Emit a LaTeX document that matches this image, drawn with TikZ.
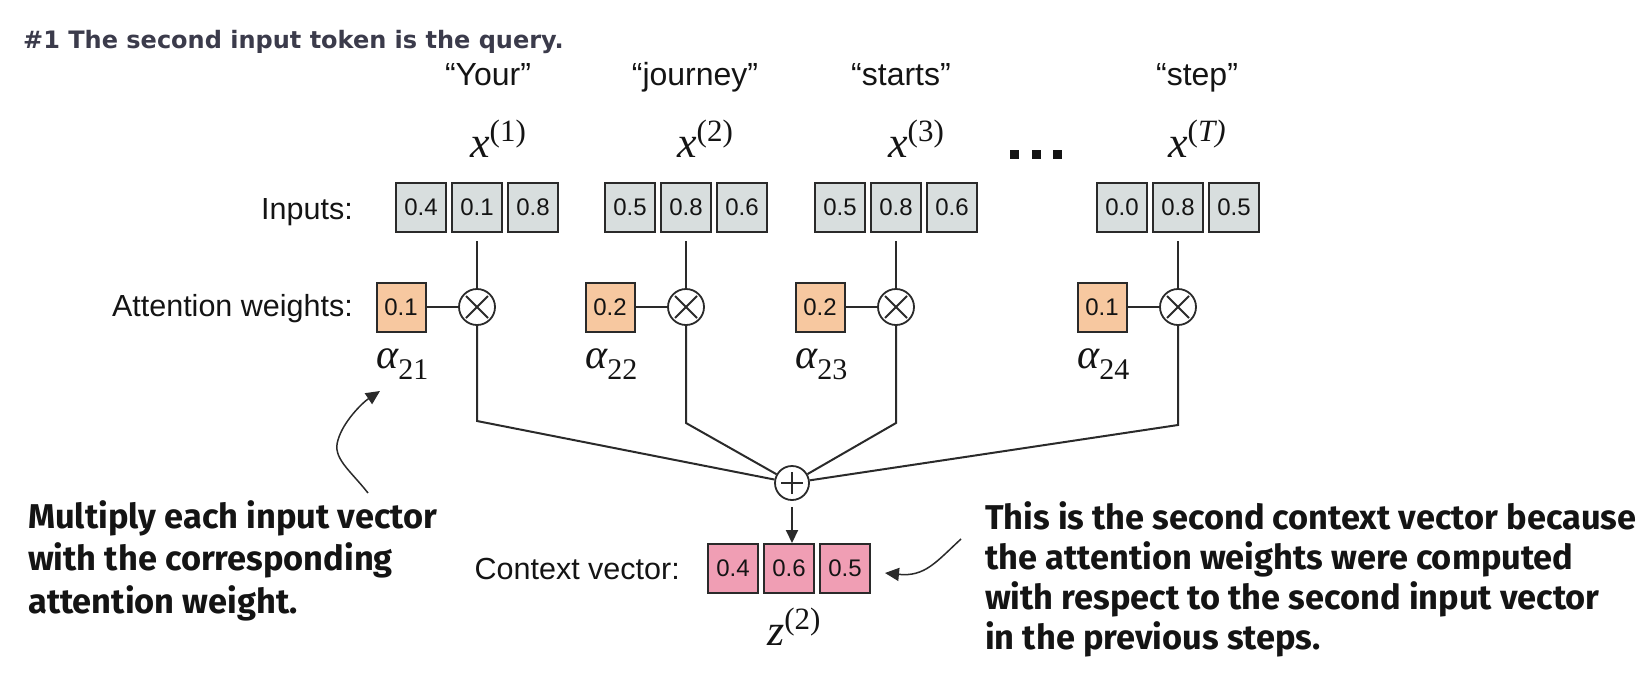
\documentclass[tikz,border=0pt]{standalone}
\usepackage{fontspec}
\setmainfont{Liberation Sans}
\newfontfamily\tms{Liberation Serif}
\newfontfamily\callfont{Fira Sans}
\newfontfamily\titlefont{DejaVu Sans}
\usetikzlibrary{arrows.meta,calc}
\definecolor{cIn}{HTML}{D8DEDE}
\definecolor{cW}{HTML}{F7C8A0}
\definecolor{cCtx}{HTML}{F09EB4}
\definecolor{cEdge}{HTML}{2A2A2A}
\definecolor{cTitle}{HTML}{3B3B4B}
\definecolor{cText}{HTML}{141414}
\newcommand{\vecsym}[2]{{\fontsize{44}{44}\selectfont\tms\itshape #1}\raisebox{16pt}{\fontsize{31}{31}\selectfont\tms(#2)}}
\newcommand{\alsym}[1]{{\fontsize{42}{42}\selectfont\tms\itshape α}\raisebox{-11pt}{\fontsize{30}{30}\selectfont\tms #1}}
\begin{document}
\begin{tikzpicture}[x=1pt,y=-1pt,
  numbox/.style={draw=cEdge, line width=2pt, minimum width=50pt, minimum height=49pt, inner sep=0pt, text=cText, font=\fontsize{24}{24}\selectfont},
  inb/.style={numbox, fill=cIn},
  wb/.style={numbox, fill=cW},
  cb/.style={numbox, fill=cCtx},
  mult/.style={circle, draw=cEdge, line width=1.8pt, minimum size=36pt, inner sep=0pt, fill=white,
    path picture={\draw[line width=1.8pt] ([shift={(-11pt,-11pt)}]path picture bounding box.center) -- ([shift={(11pt,11pt)}]path picture bounding box.center);
                  \draw[line width=1.8pt] ([shift={(-11pt,11pt)}]path picture bounding box.center) -- ([shift={(11pt,-11pt)}]path picture bounding box.center);}},
  plusc/.style={circle, draw=cEdge, line width=1.8pt, minimum size=34pt, inner sep=0pt, fill=white,
    path picture={\draw[line width=1.8pt] ([xshift=-11pt]path picture bounding box.center) -- ([xshift=11pt]path picture bounding box.center);
                  \draw[line width=1.8pt] ([yshift=-11pt]path picture bounding box.center) -- ([yshift=11pt]path picture bounding box.center);}},
  conn/.style={draw=cEdge, line width=2pt},
  lbl/.style={inner sep=0pt, text=cText, font=\fontsize{30.5}{30.5}\selectfont},
  word/.style={inner sep=0pt, text=cText, font=\fontsize{32}{32}\selectfont},
  sym/.style={inner sep=0pt, text=cText},
  note/.style={inner sep=0pt, align=left, text=cText},
  callarrow/.style={draw=cEdge, line width=1.5pt, -{Triangle[length=14pt,width=13pt]}}
]
\useasboundingbox (0,0) rectangle (1652,678);

% title
\node[anchor=base west, inner sep=0pt, text=cTitle, font=\titlefont\bfseries\fontsize{24}{24}\selectfont] (title) at (23,48) {\#1 The second input token is the query.};

% words
\node[word, anchor=base] (w1t) at (488,85) {“Your”};
\node[word, anchor=base] (w2t) at (695,85) {“journey”};
\node[word, anchor=base] (w3t) at (901,85) {“starts”};
\node[word, anchor=base] (w4t) at (1197,85) {“step”};

% vector symbols
\node[sym, anchor=base west] (x1) at (470,157) {\vecsym{x}{1}};
\node[sym, anchor=base west] (x2) at (677,157) {\vecsym{x}{2}};
\node[sym, anchor=base west] (x3) at (888,157) {\vecsym{x}{3}};
\node[sym, anchor=base west] (x4) at (1168,157) {\vecsym{x}{\itshape T}};

% dots
\fill[cText] (1010,150) rectangle ++(9,9);
\fill[cText] (1032,150) rectangle ++(9,9);
\fill[cText] (1053,150) rectangle ++(9,9);

% row labels
\node[lbl, anchor=base east] (linp) at (353,219.3) {Inputs:};
\node[lbl, anchor=base east] (lwt) at (353,316.7) {Attention weights:};
\node[lbl, anchor=base east] (lctx) at (680,579) {Context vector:};

% input boxes
\node[inb] (i11) at (421,207.5) {0.4};
\node[inb] (i12) at (477,207.5) {0.1};
\node[inb] (i13) at (533,207.5) {0.8};
\node[inb] (i21) at (630,207.5) {0.5};
\node[inb] (i22) at (686,207.5) {0.8};
\node[inb] (i23) at (742,207.5) {0.6};
\node[inb] (i31) at (840,207.5) {0.5};
\node[inb] (i32) at (896,207.5) {0.8};
\node[inb] (i33) at (952,207.5) {0.6};
\node[inb] (i41) at (1122,207.5) {0.0};
\node[inb] (i42) at (1178,207.5) {0.8};
\node[inb] (i43) at (1234,207.5) {0.5};

% multiply circles
\node[mult] (m1) at (477,307) {};
\node[mult] (m2) at (686,307) {};
\node[mult] (m3) at (896,307) {};
\node[mult] (m4) at (1178,307) {};

% weight boxes
\node[wb, minimum width=49pt] (a1) at (401,307) {0.1};
\node[wb, minimum width=49pt] (a2) at (610,307) {0.2};
\node[wb, minimum width=49pt] (a3) at (820,307) {0.2};
\node[wb, minimum width=49pt] (a4) at (1102,307) {0.1};

% alpha labels
\node[sym, anchor=base west] (al1) at (376,368) {\alsym{21}};
\node[sym, anchor=base west] (al2) at (585,368) {\alsym{22}};
\node[sym, anchor=base west] (al3) at (795,368) {\alsym{23}};
\node[sym, anchor=base west] (al4) at (1077,368) {\alsym{24}};

% sum circle and context vector
\node[plusc] (sum) at (792,483) {};
\node[cb] (c1) at (733,568.5) {0.4};
\node[cb] (c2) at (789,568.5) {0.6};
\node[cb] (c3) at (845,568.5) {0.5};
\node[sym, anchor=base west] (z) at (767,645) {\vecsym{z}{2}};

% junctions
\coordinate (j1) at (477,421);
\coordinate (j2) at (686,423);
\coordinate (j3) at (896,423);
\coordinate (j4) at (1178,425);

% connectors
\foreach \g in {1,2,3,4} {
  \draw[conn] ([yshift=-8pt]i\g2.south) -- (m\g.north);
  \draw[conn] (a\g.east) -- (m\g.west);
  \draw[conn] (m\g.south) -- (j\g) -- (sum);
}
\draw[conn, -{Triangle[length=13pt,width=12pt]}] ($(sum.south)+(0,6)$) -- (sum.south |- c2.north);

% callouts
\node[note, anchor=base west, font=\callfont\bfseries\fontsize{34.4}{42.5}\selectfont] (note1) at (28,613) {Multiply each input vector\\with the corresponding\\attention weight.};
\node[note, anchor=base west, font=\callfont\bfseries\fontsize{34.4}{40}\selectfont] (note2) at (985,649) {This is the second context vector because\\the attention weights were computed\\with respect to the second input vector\\in the previous steps.};

\coordinate (cl0) at (368,493);
\coordinate (cl1) at (380,391);
\draw[callarrow] (cl0) .. controls (350,470) and (332,458) .. (338,440) .. controls (343,422) and (362,403) .. (cl1);
\coordinate (cr0) at (961,539);
\coordinate (cr1) at (885,573);
\draw[callarrow] (cr0) .. controls (936,562) and (925,577) .. (cr1);
\end{tikzpicture}
\end{document}
